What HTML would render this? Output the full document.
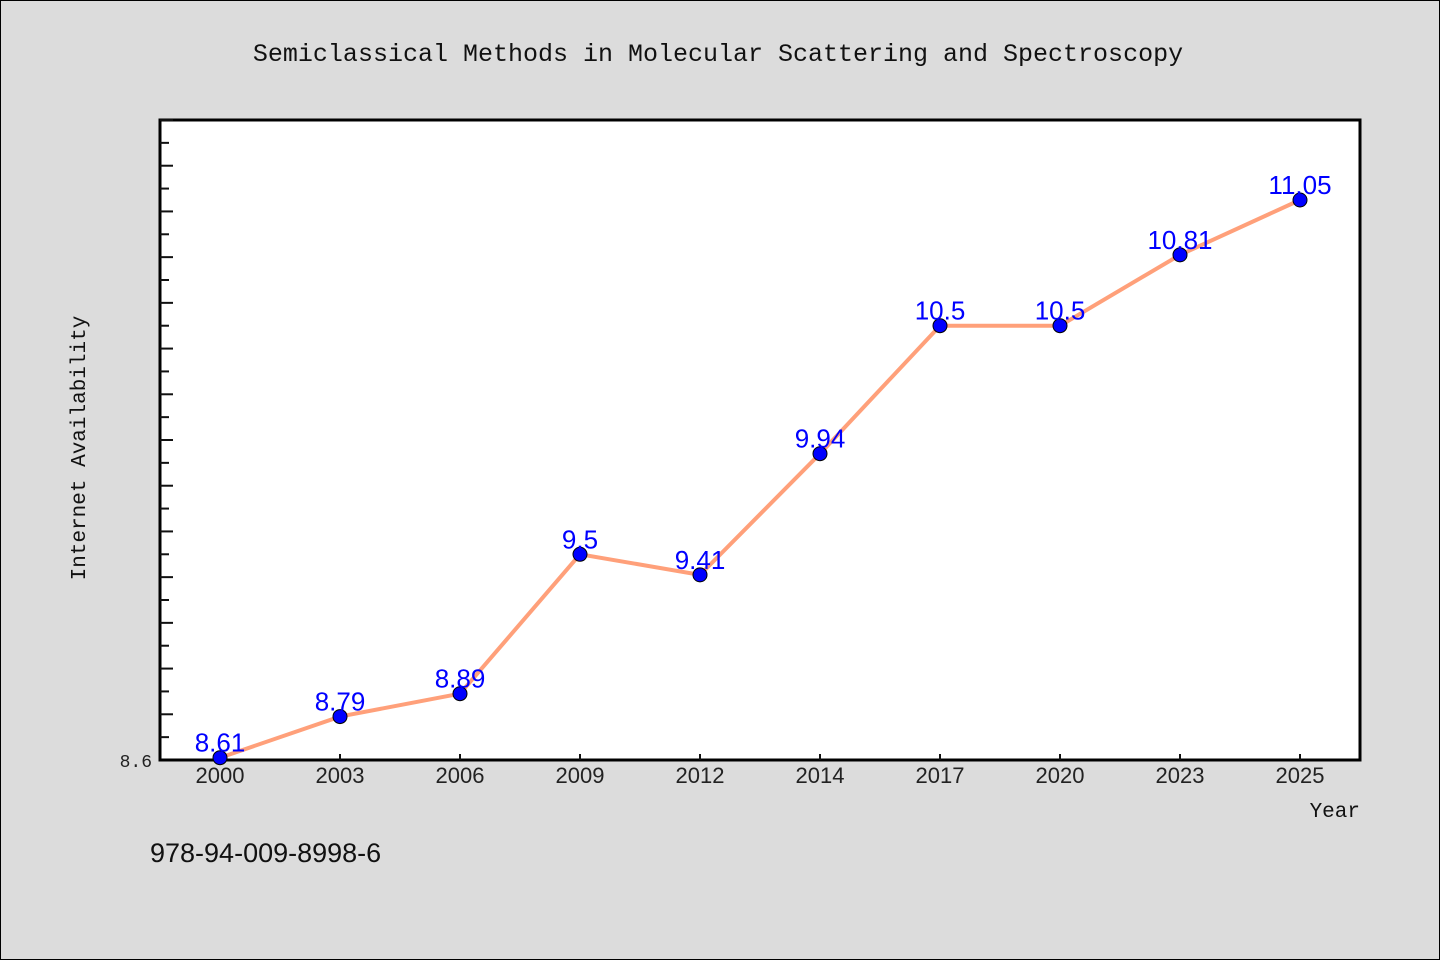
<!DOCTYPE html>
<html><head><meta charset="utf-8"><style>
body{margin:0;background:#dcdcdc;}
svg{display:block}
</style></head><body>
<svg id="chart" width="1440" height="960" xmlns="http://www.w3.org/2000/svg">
<rect x="0.5" y="0.5" width="1439" height="959" fill="#dcdcdc" stroke="#000"/>
<text x="718" y="61" text-anchor="middle" font-family="Liberation Mono, monospace" font-size="25" fill="#111">Semiclassical Methods in Molecular Scattering and Spectroscopy</text>
<rect x="160" y="120" width="1200" height="640" fill="#fff" stroke="#000" stroke-width="3"/>
<g id="ticks"></g>
<g id="series"></g>
<text x="85" y="448" transform="rotate(-90 85 448)" text-anchor="middle" font-family="Liberation Mono, monospace" font-size="21" fill="#111">Internet Availability</text>
<text x="1360" y="817" text-anchor="end" font-family="Liberation Mono, monospace" font-size="21" fill="#111">Year</text>
<text x="150" y="862" font-family="Liberation Sans, sans-serif" font-size="27" fill="#111">978-94-009-8998-6</text>
</svg>
<script>
const categories=["2000","2003","2006","2009","2012","2014","2017","2020","2023","2025"];
const values=[8.61,8.79,8.89,9.5,9.41,9.94,10.5,10.5,10.81,11.05];
const valueLabels=["8.61","8.79","8.89","9.5","9.41","9.94","10.5","10.5","10.81","11.05"];
const yMin=8.6,yMax=11.4;
const NS="http://www.w3.org/2000/svg";
const L=160,R=1360,T=120,B=760;
const x=i=>220+i*(1080/(categories.length-1));
const y=v=>B-(v-yMin)/(yMax-yMin)*(B-T);
function mk(tag,attrs,parent){const e=document.createElementNS(NS,tag);for(const k in attrs)e.setAttribute(k,attrs[k]);parent.appendChild(e);return e;}
const tg=document.getElementById('ticks'),sg=document.getElementById('series');
for(let k=1;k<=28;k++){const v=yMin+k*0.1;const yy=y(v);
 const t=mk('line',{x1:L,x2:L+(k%2==0?13:9),y1:yy,y2:yy,stroke:'#111','stroke-width':2},tg);
 
 }
const yl=mk('text',{x:152,y:B+7,'text-anchor':'end','font-family':'Liberation Mono, monospace','font-size':18,fill:'#222'},tg);
yl.textContent='8.6';


categories.forEach((c,i)=>{
 const t=mk('line',{x1:x(i),x2:x(i),y1:B,y2:B-6,stroke:'#111','stroke-width':2},tg);
 
 
 const l=mk('text',{x:x(i),y:B+23,'text-anchor':'middle','font-family':'Liberation Sans, sans-serif','font-size':22,fill:'#222'},tg);
 l.textContent=c;
 
 
});
const pl=mk('polyline',{points:values.map((v,i)=>x(i)+','+y(v)).join(' '),fill:'none',stroke:'#ffa07a','stroke-width':4},sg);


values.forEach((v,i)=>{
 const c=mk('circle',{cx:x(i),cy:y(v),r:7,fill:'#0000ff',stroke:'#000','stroke-width':1},sg);
 
 
 const t=mk('text',{x:x(i),y:y(v)-6,'text-anchor':'middle','font-family':'Liberation Sans, sans-serif','font-size':26,fill:'#0000ff'},sg);
 t.textContent=valueLabels[i];
 
 
});
</script>
</body></html>
